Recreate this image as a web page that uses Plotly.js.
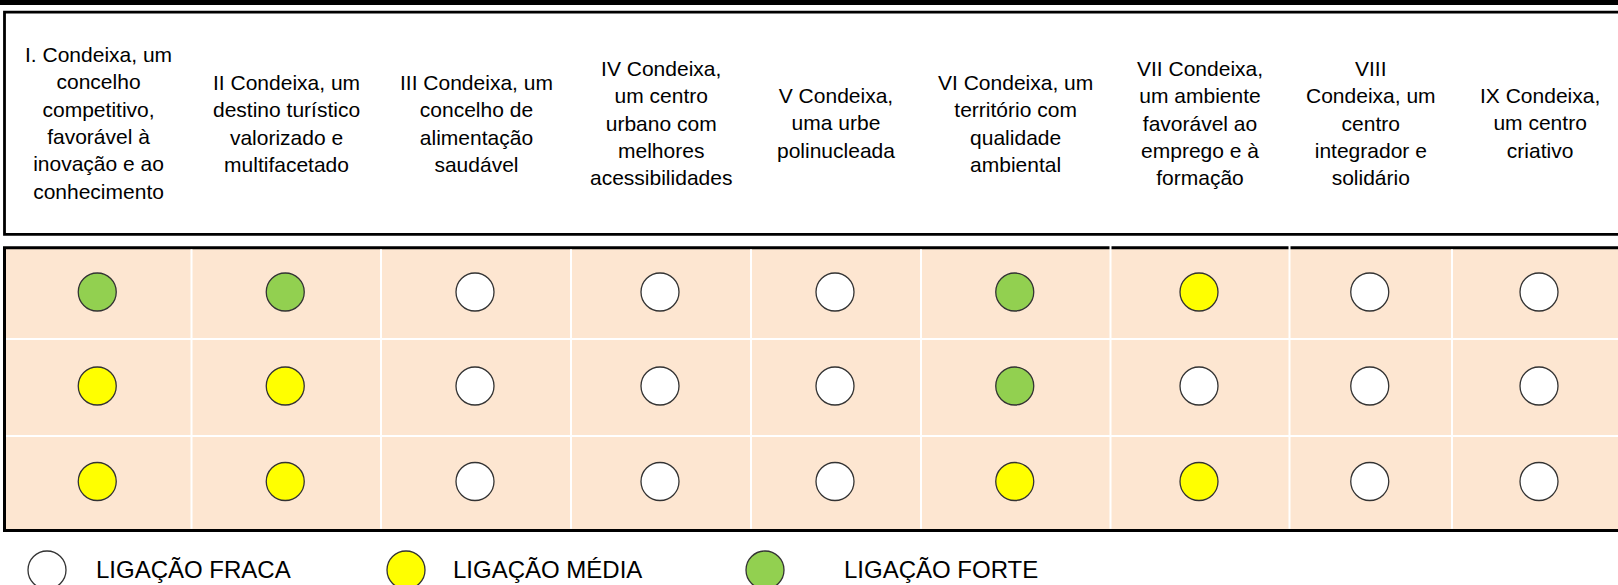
<!DOCTYPE html>
<html>
<head>
<meta charset="utf-8">
<script src="https://cdn.plot.ly/plotly-3.0.1.min.js"></script>
<style>
  html, body { margin: 0; padding: 0; background: #ffffff; }
  #chart { width: 1618px; height: 585px; }
</style>
</head>
<body>
<div id="chart"></div>
<script>
// ---------------- DATA ----------------
const objectives = [
  "I. Condeixa, um<br>concelho<br>competitivo,<br>favorável à<br>inovação e ao<br>conhecimento",
  "II Condeixa, um<br>destino turístico<br>valorizado e<br>multifacetado",
  "III Condeixa, um<br>concelho de<br>alimentação<br>saudável",
  "IV Condeixa,<br>um centro<br>urbano com<br>melhores<br>acessibilidades",
  "V Condeixa,<br>uma urbe<br>polinucleada",
  "VI Condeixa, um<br>território com<br>qualidade<br>ambiental",
  "VII Condeixa,<br>um ambiente<br>favorável ao<br>emprego e à<br>formação",
  "VIII<br>Condeixa, um<br>centro<br>integrador e<br>solidário",
  "IX Condeixa,<br>um centro<br>criativo"
];
// link strength per row: 1 = fraca, 2 = média, 3 = forte
const row1 = [3, 3, 1, 1, 1, 3, 2, 1, 1];
const row2 = [2, 2, 1, 1, 1, 3, 1, 1, 1];
const row3 = [2, 2, 1, 1, 1, 2, 2, 1, 1];
const levelLabels = ["LIGAÇÃO FRACA", "LIGAÇÃO MÉDIA", "LIGAÇÃO FORTE"];

// ---------------- LAYOUT / STYLE ----------------
const W = 1618, H = 585;
const COL_EDGES = [5, 191.5, 381, 571, 751, 921, 1110.5, 1289.5, 1452, 1628];
const ROW_EDGES = [248, 339, 436, 530];
const HEADER_MID = 123;
const LEGEND_X = [47, 406, 765];
const LEGEND_TEXT_X = [94, 451, 842];
const LEGEND_Y = 570;
const levelColors = ["#FFFFFF", "#FFFF00", "#92D050"];
const cellBg = "#FDE6D1";
const FONT = "'Liberation Sans', Arial, Helvetica, sans-serif";

const rows = [row1, row2, row3];
const colMid = i => (COL_EDGES[i] + COL_EDGES[i + 1]) / 2 - 1;
const rowMid = r => (ROW_EDGES[r] + ROW_EDGES[r + 1]) / 2 - 1.5;

// ---------------- TRACES ----------------
const traces = [];
for (let lvl = 1; lvl <= 3; lvl++) {
  const xs = [], ys = [], txt = [];
  rows.forEach((row, r) => {
    row.forEach((v, c) => {
      if (v === lvl) { xs.push(colMid(c)); ys.push(rowMid(r)); txt.push(objectives[c].replace(/<br>/g, " ")); }
    });
  });
  traces.push({
    type: "scatter", mode: "markers", x: xs, y: ys, text: txt,
    name: levelLabels[lvl - 1], showlegend: false, hoverinfo: "text+name",
    marker: { size: 38, color: levelColors[lvl - 1], line: { color: "#333333", width: 1.3 } },
    cliponaxis: false
  });
}
// legend markers
traces.push({
  type: "scatter", mode: "markers", x: LEGEND_X, y: LEGEND_X.map(() => LEGEND_Y),
  showlegend: false, hoverinfo: "skip",
  marker: { size: 38, color: levelColors, line: { color: "#333333", width: 1.3 } },
  cliponaxis: true
});

// ---------------- SHAPES ----------------
const shapes = [];
// top black bar
shapes.push({ type: "rect", xref: "x", yref: "y", x0: -10, x1: W + 10, y0: -5, y1: 5, fillcolor: "#000", line: { width: 0 }, layer: "below" });
// header box
shapes.push({ type: "rect", xref: "x", yref: "y", x0: 4.5, x1: W + 20, y0: 12.2, y1: 234.3, fillcolor: "rgba(0,0,0,0)", line: { color: "#000", width: 2.8 }, layer: "below" });
// table box
shapes.push({ type: "rect", xref: "x", yref: "y", x0: 4.5, x1: W + 20, y0: 247.7, y1: 530.5, fillcolor: cellBg, line: { color: "#000", width: 3 }, layer: "below" });
// white grid: row separators
for (let r = 1; r < ROW_EDGES.length - 1; r++) {
  shapes.push({ type: "line", xref: "x", yref: "y", x0: 6, x1: W + 10, y0: ROW_EDGES[r], y1: ROW_EDGES[r], line: { color: "#FFFFFF", width: 2 }, layer: "below" });
}
// white grid: column separators (column VII cell outline reaches up to the header box)
for (let c = 1; c < COL_EDGES.length - 1; c++) {
  const top = (c === 6 || c === 7) ? 236 : 249.3;
  shapes.push({ type: "line", xref: "x", yref: "y", x0: COL_EDGES[c], x1: COL_EDGES[c], y0: top, y1: 528.8, line: { color: "#FFFFFF", width: 2 }, layer: "below" });
}

// ---------------- ANNOTATIONS ----------------
const annotations = [];
objectives.forEach((t, c) => {
  annotations.push({
    xref: "x", yref: "y", x: colMid(c) + 1, y: HEADER_MID, text: t, showarrow: false,
    xanchor: "center", yanchor: "middle", align: "center",
    font: { family: FONT, size: 21, color: "#000" }
  });
});
levelLabels.forEach((t, i) => {
  annotations.push({
    xref: "x", yref: "y", x: LEGEND_TEXT_X[i], y: LEGEND_Y - 1, text: t, showarrow: false,
    xanchor: "left", yanchor: "middle", align: "left",
    font: { family: FONT, size: 24, color: "#000" }
  });
});

const layout = {
  width: W, height: H,
  margin: { l: 0, r: 0, t: 0, b: 0, pad: 0 },
  paper_bgcolor: "#FFFFFF", plot_bgcolor: "#FFFFFF",
  xaxis: { range: [0, W], visible: false, fixedrange: true },
  yaxis: { range: [H, 0], visible: false, fixedrange: true },
  shapes: shapes, annotations: annotations,
  showlegend: false, hovermode: "closest"
};

Plotly.newPlot("chart", traces, layout, { displayModeBar: false, staticPlot: false });
</script>
</body>
</html>
